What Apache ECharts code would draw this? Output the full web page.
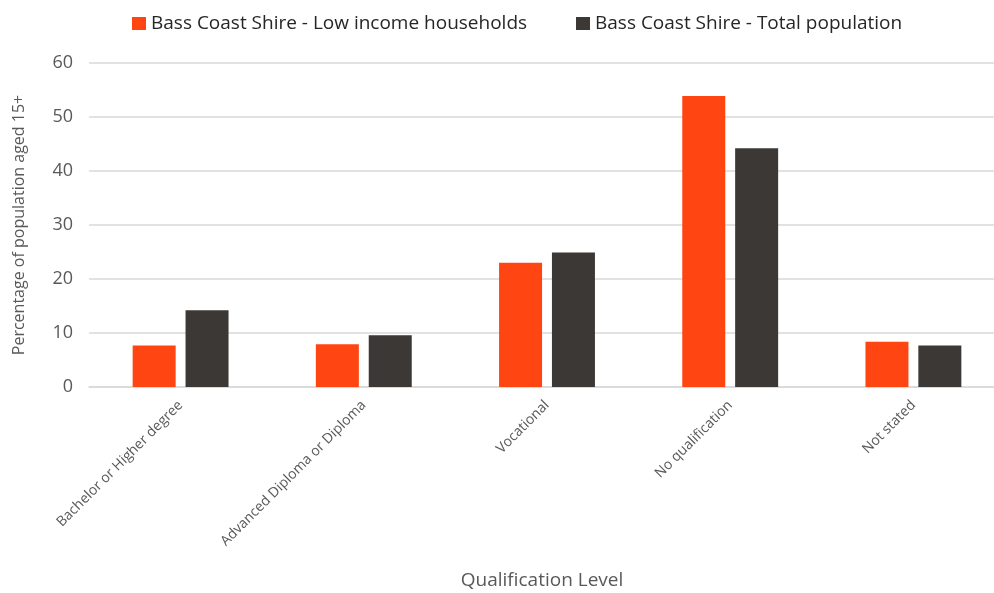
<!DOCTYPE html>
<html>
<head>
<meta charset="utf-8">
<script src="https://cdn.jsdelivr.net/npm/echarts@6/dist/echarts.min.js"></script>
<style>
  html, body { margin: 0; padding: 0; background: #fff; }
  #chart { width: 994px; height: 593px; }
</style>
</head>
<body>
<div id="chart"></div>
<script>
// Qualification levels (x-axis categories)
const categories = [
  'Bachelor or Higher degree',
  'Advanced Diploma or Diploma',
  'Vocational',
  'No qualification',
  'Not stated'
];

// Series names
const seriesNames = [
  'Bass Coast Shire - Low income households',
  'Bass Coast Shire - Total population'
];

// Percentage of population aged 15+
const lowIncomeValues = [7.7, 7.9, 23.0, 53.9, 8.4];
const totalPopValues = [14.2, 9.6, 24.9, 44.2, 7.7];

// Y-axis ticks
const yTicks = [0, 10, 20, 30, 40, 50, 60];

const FONT = '"Open Sans", "Noto Sans", sans-serif';
const TEXT = '#595959';

const chart = echarts.init(document.getElementById('chart'), null, { renderer: 'canvas' });

const legendBase = {
  top: 14,
  padding: 0,
  itemWidth: 14,
  itemHeight: 13,
  icon: 'rect',
  textStyle: { fontFamily: FONT, fontSize: 19, color: '#262626' }
};

chart.setOption({
  animation: false,
  backgroundColor: '#ffffff',
  textStyle: { fontFamily: FONT },
  legend: [
    Object.assign({}, legendBase, { left: 132, data: [seriesNames[0]] }),
    Object.assign({}, legendBase, { left: 576, data: [seriesNames[1]] })
  ],
  grid: {
    left: 89,
    top: 63,
    width: 916,
    height: 324,
    containLabel: false,
    outerBoundsMode: 'none'
  },
  xAxis: {
    type: 'category',
    data: categories,
    name: 'Qualification Level',
    nameLocation: 'middle',
    nameGap: 184,
    nameTextStyle: { fontFamily: FONT, fontSize: 19, color: TEXT, padding: [0, 10, 0, 0] },
    axisLine: { show: true, lineStyle: { color: '#d9d9d9', width: 1.5 } },
    axisTick: { show: false },
    axisLabel: {
      rotate: 45,
      interval: 0,
      margin: 16,
      fontFamily: FONT,
      fontSize: 14,
      color: TEXT
    }
  },
  yAxis: {
    type: 'value',
    min: yTicks[0],
    max: yTicks[yTicks.length - 1],
    interval: yTicks[1] - yTicks[0],
    name: 'Percentage of population aged 15+',
    nameLocation: 'middle',
    nameGap: 62,
    nameRotate: 90,
    nameTextStyle: { fontFamily: FONT, fontSize: 16, color: TEXT },
    axisLine: { show: false },
    axisTick: { show: false },
    axisLabel: { fontFamily: FONT, fontSize: 18, color: TEXT, margin: 16 },
    splitLine: { lineStyle: { color: '#d9d9d9', width: 1.5 } }
  },
  series: [
    {
      name: seriesNames[0],
      type: 'bar',
      data: lowIncomeValues,
      barWidth: 43,
      barGap: '23%',
      itemStyle: { color: '#ff4612' }
    },
    {
      name: seriesNames[1],
      type: 'bar',
      data: totalPopValues,
      barWidth: 43,
      barGap: '23%',
      itemStyle: { color: '#3b3836' }
    }
  ]
});
</script>
</body>
</html>
